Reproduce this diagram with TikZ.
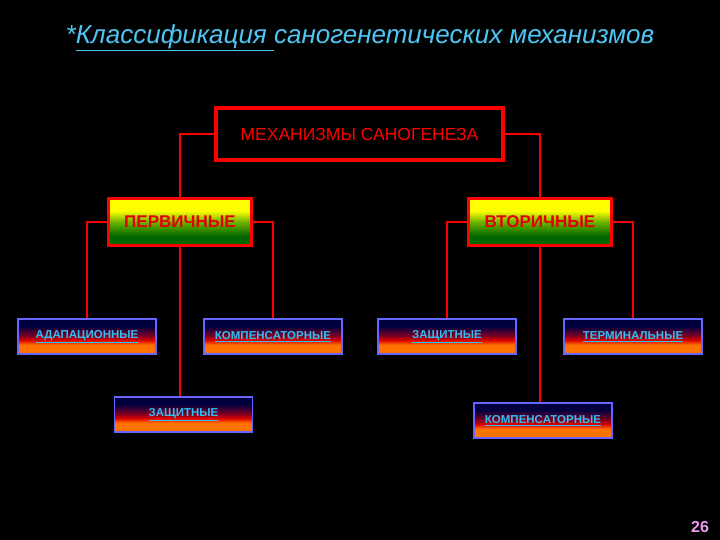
\documentclass[tikz,border=0pt]{standalone}
\usepackage{fontspec}
\setmainfont{Liberation Sans}
\pgfdeclareverticalshading{leafshade}{100bp}{color(0bp)=(orange!90!red); color(38bp)=(orange!90!red); color(45bp)=(red!85!black); color(52bp)=(purple!60!black); color(65bp)=(blue!25!black); color(100bp)=(blue!20!black)}
\pgfdeclareverticalshading{midshade}{100bp}{color(0bp)=(green!40!black); color(35bp)=(green!40!black); color(50bp)=(yellow!60!green!70!black); color(62bp)=(yellow); color(100bp)=(yellow)}
\begin{document}
\begin{tikzpicture}[x=1pt,y=-1pt,
  lnk/.style={draw=red,line width=2.5pt},
  topbox/.style={draw=red,line width=4.5pt,fill=black,text=red,font=\fontsize{17.5}{19}\selectfont,minimum width=287pt,minimum height=52pt,inner sep=0pt},
  midbox/.style={draw=red,line width=3.5pt,shading=midshade,text=red!90!black,font=\bfseries\fontsize{17}{19}\selectfont,minimum width=143pt,minimum height=47pt,inner sep=0pt},
  leaf/.style={draw=blue!60!white,line width=1.5pt,shading=leafshade,text=cyan!80!white,font=\bfseries\fontsize{11.5}{13}\selectfont,minimum width=138pt,minimum height=35pt,inner sep=0pt}]
\fill[black] (0,0) rectangle (720,540);
\useasboundingbox (0,0) rectangle (720,540);
\node[text=cyan!70!white,font=\itshape\fontsize{26}{30}\selectfont] (title) at (360,38) {*\underline{Классификация }саногенетических механизмов};
\node[topbox] (mex) at (359.5,134) {МЕХАНИЗМЫ САНОГЕНЕЗА};
\node[midbox] (perv) at (180,222) {ПЕРВИЧНЫЕ};
\node[midbox] (vtor) at (540,222) {ВТОРИЧНЫЕ};
\node[leaf] (adap) at (87,336.5) {\raisebox{2pt}{\underline{АДАПАЦИОННЫЕ}}};
\node[leaf] (komp) at (273,336.5) {\raisebox{2pt}{\underline{КОМПЕНСАТОРНЫЕ}}};
\node[leaf] (zash) at (183.5,414.5) {\raisebox{2pt}{\underline{ЗАЩИТНЫЕ}}};
\node[leaf] (zash2) at (447,336.5) {\raisebox{2pt}{\underline{ЗАЩИТНЫЕ}}};
\node[leaf] (term) at (633,336.5) {\raisebox{2pt}{\underline{ТЕРМИНАЛЬНЫЕ}}};
\node[leaf] (komp2) at (543,420.5) {\raisebox{2pt}{\underline{КОМПЕНСАТОРНЫЕ}}};
\node[text=violet!40!magenta!40!white,font=\bfseries\fontsize{16}{18}\selectfont] (num) at (700,527) {26};
\draw[lnk] (mex.west) -| (perv.north);
\draw[lnk] (mex.east) -| (vtor.north);
\draw[lnk] (perv.west) -| (adap.north);
\draw[lnk] (perv.east) -| (komp.north);
\draw[lnk] (perv.south) -- (perv.south |- zash.north);
\draw[lnk] (vtor.west) -| (zash2.north);
\draw[lnk] (vtor.east) -| (term.north);
\draw[lnk] (vtor.south) -- (vtor.south |- komp2.north);
\end{tikzpicture}
\end{document}
